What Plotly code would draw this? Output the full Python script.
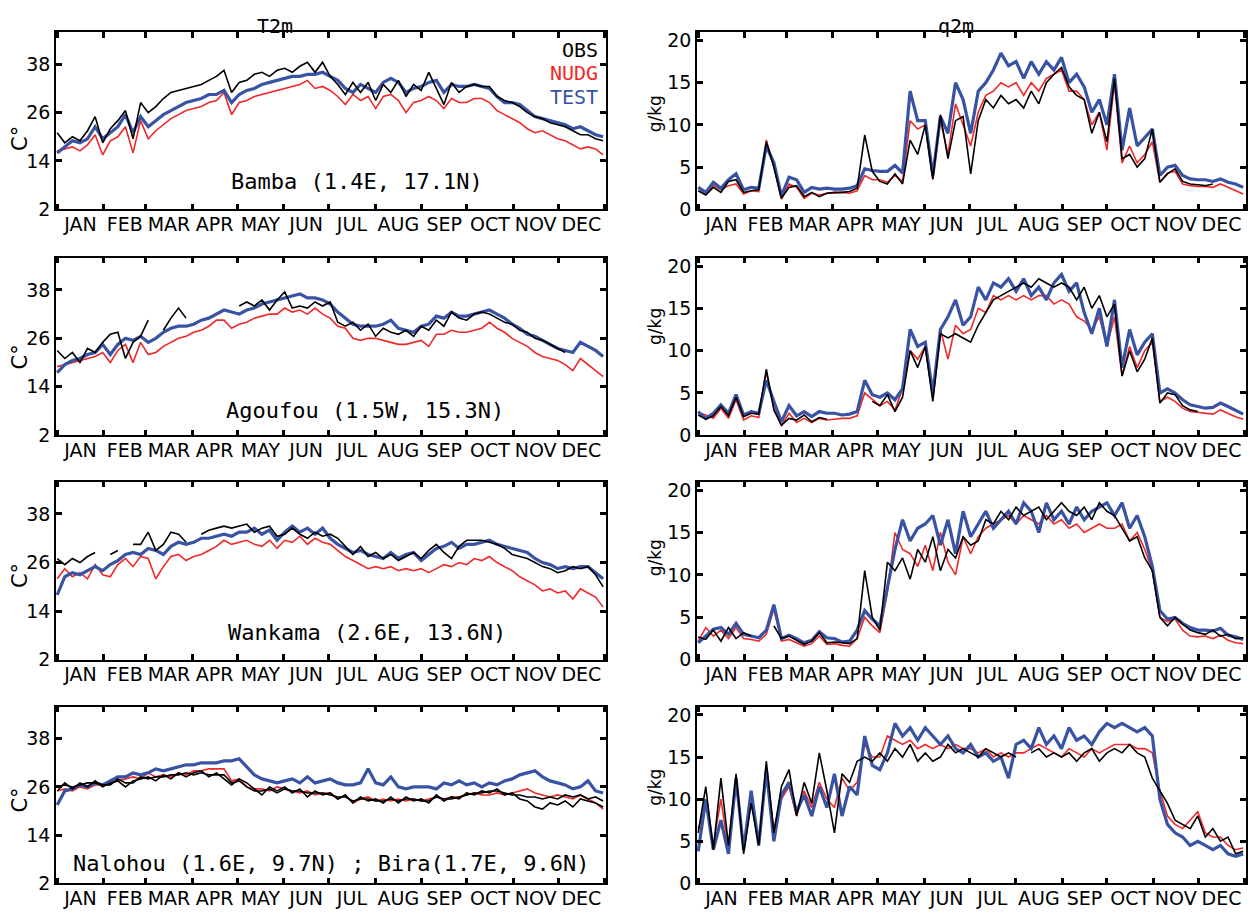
import plotly.graph_objects as go

# ---------------- data (~5-day samples) ----------------
N = 73
DAYS = [round(i * 364 / 72, 2) for i in range(N)]
MONTHS = ["JAN", "FEB", "MAR", "APR", "MAY", "JUN", "JUL", "AUG", "SEP", "OCT", "NOV", "DEC"]
MONTH_START = [0, 31, 59, 90, 120, 151, 181, 212, 243, 273, 304, 334, 365]
T_TICKS = [2, 14, 26, 38]
Q_TICKS = [0, 5, 10, 15, 20]
_ = None

bamba_t_obs = [21, 18.5, 20, 19, 21.5, 25, 18.5, 22, 24, 26.5, 19.5, 28.5,
               26, 27.5, 29.5, 31, 31.5, 32, 32.5, 33, 34, 35, 36.5, 31,
               33.5, 34, 35.5, 36, 35, 36.5, 37, 36, 37.5, 38.5, 36, 38.5,
               35, 33, 30.5, 33.5, 31, 33.5, 29, 33, 31, 34, 30, 33, 31.5,
               36, 32, 28, 33.5, 31, 32.5, 33, 32.5, 32.5, 30, 29, 28.5,
               27.5, 26, 25, 24.5, 23.5, 23, 22.5, 21.5, 20.5, 20.5, 19.5, 19]
bamba_t_nudg = [16.5, 17, 17.5, 16.5, 18, 20.5, 15.5, 19, 20, 22.5, 16, 24,
                19.5, 21.5, 23, 24.5, 25.5, 26.5, 27, 27.5, 28.5, 29, 31, 25.5,
                28.5, 29, 30, 30.5, 31, 31.5, 32, 32.5, 33, 34, 32, 32.5,
                31.5, 30, 28, 30.5, 29, 30, 27, 30, 30.5, 29, 26, 28.5, 29,
                30, 29, 27, 29.5, 28.5, 28.5, 29.5, 29.5, 28.5, 26.5, 25.5, 24.5,
                23.5, 22, 21, 21.5, 20.5, 19.5, 19, 18, 17, 17.5, 17, 15.5]
bamba_t_test = [16, 17.5, 19, 18.5, 19.5, 22.5, 19.5, 21, 22.5, 25.5, 21, 25,
                22.5, 24, 25.5, 26.5, 27.5, 28.5, 29, 29.5, 30.5, 30.5, 31.5, 28.5,
                30.5, 31.5, 32, 33, 33.5, 34, 34.5, 35, 35, 35.5, 35.5, 36,
                35, 34, 32, 31, 33, 32, 31, 33.5, 34.5, 33.5, 31, 32, 32.5,
                33.5, 34, 31, 33, 32.5, 32.5, 33, 32.5, 32, 30, 28.5, 28.5,
                28, 26.5, 25, 24.5, 24, 23.5, 23, 22, 22.5, 21.5, 20.5, 20]

bamba_q_obs = [2.2, 1.7, 2.6, 2.0, 3.3, 3.5, 2.0, 2.2, 2.3, 8.0, 5.0, 1.3,
               2.6, 2.8, 1.5, 2.0, 1.5, 1.9, 2.0, 2.0, 2.1, 2.5, 8.8, 4.5,
               3.3, 3.0, 4.2, 3.0, 8.2, 6.5, 10.0, 3.6, 11.2, 6.0, 10.5, 11.0,
               4.2, 10.5, 13.0, 12.0, 13.5, 12.5, 13.0, 12.0, 14.0, 12.5, 15.0, 16.0, 16.8,
               14.5, 13.5, 13.0, 9.0, 11.5, 8.0, 15.5, 6.0, 6.5, 5.0, 6.0, 9.5,
               3.2, 4.2, 4.8, 3.3, 3.0, 2.9, 2.8, 3.0, _, _, _, _]
bamba_q_nudg = [2.5, 1.9, 2.8, 2.3, 2.8, 3.0, 1.8, 2.2, 2.1, 8.2, 5.0, 1.2,
                3.0, 2.6, 1.3, 1.9, 1.7, 1.9, 1.9, 2.0, 1.9, 2.2, 4.0, 3.5,
                3.5, 3.2, 4.0, 3.3, 10.5, 9.5, 10.0, 3.5, 10.5, 6.5, 12.5, 10.0,
                7.5, 11.5, 13.5, 14.0, 15.0, 14.5, 15.0, 13.5, 15.0, 14.0, 15.5, 16.0, 16.5,
                14.0, 14.0, 13.0, 10.0, 11.5, 7.0, 15.0, 5.5, 7.5, 5.5, 6.5, 8.0,
                3.2, 4.3, 4.5, 3.0, 2.8, 2.7, 2.7, 2.6, 3.0, 2.6, 2.2, 1.8]
bamba_q_test = [2.6, 2.0, 3.2, 2.5, 3.5, 4.2, 2.3, 2.6, 2.5, 7.5, 5.5, 1.6,
                3.8, 3.5, 2.0, 2.6, 2.4, 2.5, 2.4, 2.4, 2.5, 2.8, 4.8, 4.6,
                4.5, 4.5, 5.2, 4.3, 14.0, 10.5, 10.5, 4.0, 11.0, 9.0, 15.0, 13.0,
                9.0, 14.0, 15.0, 16.5, 18.5, 17.0, 17.5, 15.5, 17.5, 16.0, 17.5, 16.5, 18.0,
                15.0, 16.0, 14.5, 11.5, 13.0, 10.0, 16.0, 7.0, 12.0, 7.5, 8.5, 9.5,
                4.0, 5.0, 5.2, 4.0, 3.6, 3.5, 3.5, 3.3, 3.6, 3.2, 3.0, 2.6]

agou_t_obs = [23, 21, 22.5, 20, 23.5, 22.5, 25, 27, 27.5, 21, 25, 26.5,
              30.5, _, 28, 31, 33.5, 31, _, _, _, _, _, _,
              34, 35, 34, 35.5, 33, 35.5, 37.5, 33.5, 34, 33.5, 35, 34,
              35, 30, 29, 30, 28, 29.5, 26.5, 28.5, 27.5, 27, 28, 26.5, 29,
              28, 30.5, 29, 32.5, 31, 30.5, 32, 32.5, 32, 31, 30, 29.5,
              28, 27.5, 26, 25.5, 24.5, 23.5, 22.5, _, _, _, _, _]
agou_t_nudg = [19, 19.5, 20, 20.5, 21, 21.5, 22.5, 20, 23, 24.5, 20, 25,
               22, 22.5, 24, 25, 26, 26.5, 27.5, 28, 29, 30.5, 30.5, 28.5,
               29.5, 30, 31, 31.5, 32, 32, 33.5, 32.5, 33, 32, 33.5, 32,
               31, 29, 28.5, 26, 25.5, 26, 26, 25.5, 25, 24.5, 24.5, 25, 25.5,
               24, 27, 27, 28, 27.5, 27.5, 28, 28.5, 30, 28.5, 27.5, 26,
               25, 24, 22.5, 21.5, 21, 20.5, 19.5, 18, 21, 19.5, 18, 16.5]
agou_t_test = [17.5, 19.5, 20.5, 21, 22, 22.5, 24.5, 22, 24.5, 26, 25.5, 26.5,
               25, 26, 27.5, 28.5, 29, 29, 29.5, 30.5, 31, 32, 33, 32.5,
               32, 33, 33.5, 34.5, 35, 35.5, 36, 36.5, 37, 36, 36, 35.5,
               34.5, 32.5, 31, 29.5, 29, 29, 29, 29.5, 30.5, 28.5, 28, 27.5, 29,
               29.5, 31.5, 31, 32.5, 31.5, 31.5, 32, 32.5, 33, 32, 31, 29.5,
               28.5, 27, 26.5, 25.5, 24.5, 23.5, 23, 22.5, 25, 24, 23, 21.5]

agou_q_obs = [2.4, 1.9, 2.3, 3.4, 2.3, 4.5, 2.2, 2.6, 2.5, 7.8, 3.0, 1.2,
              2.0, 1.8, 2.4, 1.6, 2.1, 1.9, _, _, _, _, _, 4.0,
              3.5, 4.8, 2.8, 4.5, 10.0, 8.0, 10.5, 4.0, 12.0, 11.5, 12.0, 11.5,
              11.0, 13.0, 14.5, 16.0, 16.5, 17.0, 17.5, 18.0, 17.5, 18.5, 18.0, 17.5, 18.0,
              17.5, 16.0, 17.5, 15.0, 16.5, 14.0, 15.5, 7.0, 10.0, 7.5, 9.0, 11.5,
              3.8, 5.0, 4.8, 3.5, 3.0, 2.8, _, _, _, _, _, _]
agou_q_nudg = [2.7, 2.4, 2.0, 3.2, 2.0, 4.2, 1.8, 2.3, 2.1, 7.5, 3.2, 1.1,
               2.6, 1.5, 2.0, 1.5, 2.0, 1.8, 1.9, 2.0, 2.0, 2.3, 5.0, 4.2,
               3.5, 4.0, 3.0, 5.5, 10.0, 9.0, 10.5, 4.5, 12.5, 9.0, 13.0, 12.0,
               12.5, 15.0, 14.5, 16.5, 16.0, 16.5, 16.0, 16.5, 16.0, 16.5, 16.5, 15.5, 16.0,
               15.5, 14.0, 13.5, 12.5, 14.0, 10.5, 14.0, 7.0, 10.5, 8.0, 10.0, 11.0,
               4.0, 4.5, 4.0, 3.2, 2.8, 2.7, 2.6, 2.5, 3.0, 2.6, 2.2, 1.9]
agou_q_test = [2.8, 2.0, 2.6, 3.6, 2.6, 4.8, 2.4, 2.8, 2.6, 6.5, 4.0, 1.6,
               3.5, 2.3, 2.8, 2.2, 2.8, 2.6, 2.6, 2.4, 2.5, 2.8, 6.5, 4.8,
               4.5, 5.0, 4.2, 5.5, 12.5, 10.5, 11.0, 5.0, 12.5, 14.0, 16.0, 13.0,
               14.0, 17.5, 16.0, 18.0, 17.5, 18.5, 17.0, 18.5, 16.5, 17.5, 16.0, 18.0, 19.0,
               17.0, 18.0, 14.5, 12.0, 15.0, 10.5, 16.0, 8.0, 12.5, 9.5, 11.0, 12.0,
               5.0, 5.5, 5.0, 4.2, 3.6, 3.4, 3.2, 3.3, 3.8, 3.4, 3.0, 2.5]

wank_t_obs = [27, 25.5, 27, 26, 27.5, 28.5, _, 28, 29, _, 30.5, 30.5,
              33.5, 29, 30.5, 33.5, 33, 31, _, 33, 34, 34.5, 35, 34.5,
              35, 35.5, 33.5, 34.5, 35, 32.5, 33, 34.5, 33, 32, 33.5, 32.5,
              33, 32, 30, 28, 30, 27.5, 28.5, 27, 28, 26.5, 27.5, 28.5, 27,
              29, 30.5, 28.5, 27, 30, 31.5, 31.5, 31.5, 31, 30.5, 29.5, 28,
              27.5, 27, 26, 25, 24.5, 23.5, 24, 25, 24.5, 25, 23, 20]
wank_t_nudg = [22, 24.5, 22.5, 23.5, 22, 25.5, 23, 22.5, 25.5, 27, 25, 27.5,
               27, 22, 25, 27.5, 28, 26.5, 27.5, 28, 29, 30, 31.5, 30.5,
               31, 31.5, 30.5, 30, 31.5, 29.5, 31.5, 31, 32.5, 30.5, 32, 31,
               30.5, 29, 27.5, 26.5, 25.5, 24.5, 25, 24.5, 25, 24, 24.5, 24, 24.5,
               23.5, 24.5, 25.5, 25, 26, 25.5, 27, 26.5, 27.5, 26, 25, 24,
               22.5, 21.5, 20.5, 19, 19.5, 18.5, 19, 17, 19.5, 18.5, 17.5, 15]
wank_t_test = [18, 22.5, 23.5, 23, 24, 25, 24, 25.5, 26.5, 28, 28.5, 28,
               29.5, 29, 28, 30, 31, 30.5, 31, 32, 32, 32.5, 33, 32.5,
               33.5, 33.5, 34.5, 33, 34, 31.5, 33.5, 35, 33.5, 34.5, 33, 34.5,
               32, 30.5, 29.5, 28.5, 29, 28, 27.5, 27, 28.5, 27, 28, 28.5, 26.5,
               28, 29.5, 30, 31, 29.5, 30.5, 30.5, 31, 31.5, 30.5, 30, 29.5,
               29, 28.5, 27, 26, 25.5, 24.5, 25, 24.5, 25, 25, 23.5, 22]

wank_q_obs = [2.7, 2.4, 3.5, 2.2, 3.8, 2.5, 3.2, 2.8, _, _, 4.0, 2.5,
              2.8, 2.3, 1.8, 2.2, 3.2, 2.0, 2.1, 2.0, 1.9, 2.5, 10.5, 5.0,
              3.5, 11.5, 10.5, 12.0, 9.5, 13.0, 11.5, 14.5, 10.5, 13.0, 12.0, 14.5,
              13.5, 14.0, 16.5, 16.0, 17.5, 16.5, 18.0, 17.0, 17.5, 18.0, 16.5, 17.5, 18.5,
              17.5, 17.0, 18.0, 16.5, 18.5, 17.5, 17.0, 15.5, 14.0, 14.5, 12.0, 10.5,
              5.0, 4.0, 5.0, 4.2, 3.5, 3.2, 3.0, 3.5, 2.8, 3.0, 2.5, 2.6]
wank_q_nudg = [2.2, 3.8, 2.8, 3.5, 2.5, 3.8, 2.5, 2.4, 2.2, 3.0, 6.0, 2.2,
               2.4, 2.0, 1.6, 1.9, 2.8, 1.8, 1.9, 1.7, 1.6, 2.5, 5.0, 4.0,
               3.2, 8.0, 15.0, 13.0, 12.5, 11.0, 13.5, 10.5, 15.0, 11.5, 10.0, 14.5,
               12.5, 14.5, 15.5, 16.0, 16.5, 17.0, 16.0, 17.0, 16.5, 16.0, 17.0, 16.0, 16.5,
               15.5, 16.0, 15.0, 15.5, 16.0, 15.5, 15.5, 16.0, 14.0, 15.0, 13.0, 10.5,
               5.0, 4.5, 4.8, 3.5, 2.8, 2.7, 2.8, 2.5, 2.9, 2.3, 2.0, 1.9]
wank_q_test = [2.0, 2.8, 3.6, 3.8, 3.0, 4.3, 3.0, 2.8, 2.6, 3.5, 6.5, 2.5,
               2.9, 2.5, 2.0, 2.3, 3.3, 2.6, 2.5, 2.1, 2.2, 3.5, 5.8, 4.8,
               4.0, 8.5, 13.0, 16.5, 14.0, 15.5, 16.0, 17.0, 13.5, 16.5, 12.5, 17.5,
               14.5, 16.0, 17.5, 15.5, 16.5, 17.5, 16.0, 18.5, 17.5, 15.0, 18.5, 16.5, 17.5,
               16.0, 18.0, 16.5, 17.5, 18.0, 18.5, 17.0, 18.5, 15.5, 17.0, 14.5, 11.0,
               5.8, 4.8, 5.0, 4.3, 3.8, 3.5, 3.5, 3.4, 3.7, 2.9, 2.7, 2.4]

nalo_t_obs = [25, 27, 25.5, 27, 26, 27.5, 26, 27, 27.5, 26, 27.5, 28,
              28.5, 27.5, 29, 28, 29.5, 28.5, 29.5, 30, 28.5, 29.5, 28, 26.5,
              28, 27, 25.5, 24, 26, 25, 26, 24.5, 25.5, 23.5, 25, 24,
              24.5, 23, 24, 22, 23.5, 22.5, 23, 22, 23.5, 22, 23.5, 22.5, 23,
              22, 24, 22.5, 23.5, 23, 24.5, 24, 25, 24.5, 25.5, 24, 24.5,
              23, 22.5, 21, 20.5, 22, 21.5, 22.5, 21, 23, 22.5, 22, 21]
bira_t_obs = [26, 26.5, 26, 26.5, 27, 27, 26.5, 26.5, 28, 27, 27, 28.5,
              28, 28.5, 28.5, 29, 29, 29.5, 29, 29.5, 29, 29, 29, 27,
              27.5, 26, 25, 25, 25.5, 24.5, 25.5, 25, 25, 24.5, 24.5, 24.5,
              24, 23.5, 23.5, 22.5, 23, 23, 22.5, 22.5, 23, 22.5, 23, 23, 22.5,
              22.5, 23.5, 23, 23, 23.5, 24, 24.5, 24.5, 25, 25, 24.5, 24,
              24, 23.5, 23.5, 23, 23.5, 23, 24, 23.5, 24, 23, 23.5, 22.5]
nalo_t_nudg = [25, 25.5, 25, 26, 25.5, 26.5, 26.5, 27, 27.5, 28, 28.5, 28,
               29.5, 28.5, 29, 28.5, 29.5, 29, 30, 30, 30.5, 30.5, 30.5, 27.5,
               28, 26, 25.5, 25.5, 25, 26, 25.5, 25, 24.5, 25, 24, 24.5,
               24.5, 23, 24, 22, 23, 23.5, 22.5, 23, 22.5, 23, 22.5, 23, 22.5,
               23, 23.5, 23, 23.5, 23.5, 24, 24.5, 24, 24, 24.5, 24, 24.5,
               25, 25.5, 24.5, 24, 23.5, 24, 23.5, 23, 24, 23, 22, 20.5]
nalo_t_test = [21.5, 25, 25.5, 26.5, 26, 27, 26.5, 27.5, 28.5, 28.5, 29.5, 29,
               29.5, 30.5, 30, 30.5, 31, 31.5, 31.5, 32, 32, 32, 32.5, 32.5,
               33, 31, 29, 28, 27.5, 27, 27.5, 28, 27, 28.5, 27, 27.5,
               28, 27, 26.5, 26.5, 27, 30.5, 27, 26.5, 28.5, 26, 25.5, 26, 26,
               26, 25.5, 27, 26.5, 27.5, 26.5, 27, 26, 27, 26.5, 27.5, 28,
               29, 29.5, 30, 28.5, 27.5, 27, 26.5, 25.5, 26, 27.5, 25, 24.5]

nalo_q_obs = [6.0, 11.5, 4.0, 12.5, 4.5, 13.0, 3.5, 9.5, 4.5, 14.5, 6.0, 11.5,
              13.5, 8.0, 12.0, 9.5, 15.5, 11.0, 6.0, 13.0, 12.0, 14.5, 15.0, 14.5,
              15.5, 14.5, 16.0, 15.0, 16.5, 14.5, 15.5, 14.5, 15.0, 16.5, 15.5, 16.0,
              15.5, 15.0, 16.0, 15.5, 15.0, 15.5, 15.0, _, 15.5, 16.0, 15.0, 15.5, 15.0,
              15.5, 14.5, 15.5, 16.0, 14.5, 15.5, 16.0, 15.5, 16.5, 15.5, 15.0, 12.5,
              11.0, 9.5, 7.5, 7.0, 6.5, 8.0, 5.5, 6.5, 5.0, 5.5, 3.5, 3.8]
nalo_q_nudg = [6.5, 9.5, 4.5, 10.0, 4.0, 12.0, 4.0, 10.0, 5.0, 13.0, 6.5, 10.0,
               11.5, 8.0, 11.0, 9.0, 12.0, 10.0, 9.0, 12.5, 11.0, 12.0, 16.5, 15.0,
               15.0, 17.5, 17.0, 16.5, 17.0, 16.0, 16.5, 16.0, 16.5, 16.0, 16.5, 16.0,
               16.0, 15.5, 16.0, 15.0, 15.5, 15.0, 15.5, 15.5, 16.0, 16.5, 16.0, 15.5, 15.0,
               16.0, 15.5, 15.0, 16.0, 15.5, 16.0, 16.5, 16.5, 16.5, 16.0, 16.0, 15.5,
               11.0, 8.0, 7.0, 6.5, 7.5, 8.5, 6.0, 5.5, 5.5, 4.5, 4.0, 4.2]
nalo_q_test = [3.8, 10.0, 4.0, 7.5, 3.5, 12.5, 4.0, 11.0, 4.5, 13.5, 5.0, 10.5,
               12.0, 8.5, 10.5, 8.0, 11.5, 9.0, 13.0, 8.0, 11.5, 10.5, 17.5, 14.0,
               13.5, 15.5, 19.0, 17.5, 18.5, 17.0, 18.5, 17.5, 16.5, 17.5, 16.0, 15.5,
               16.5, 15.0, 15.5, 14.5, 15.0, 12.5, 16.5, 17.0, 16.0, 18.5, 16.5, 17.5, 16.0,
               18.5, 17.0, 17.5, 16.5, 18.0, 19.0, 18.5, 19.0, 18.5, 18.0, 18.5, 17.5,
               10.0, 7.0, 6.0, 5.5, 4.5, 5.0, 4.5, 4.0, 4.5, 3.5, 3.2, 3.5]

for arr in [bamba_t_obs, bamba_t_nudg, bamba_t_test, bamba_q_obs, bamba_q_nudg, bamba_q_test,
            agou_t_obs, agou_t_nudg, agou_t_test, agou_q_obs, agou_q_nudg, agou_q_test,
            wank_t_obs, wank_t_nudg, wank_t_test, wank_q_obs, wank_q_nudg, wank_q_test,
            nalo_t_obs, bira_t_obs, nalo_t_nudg, nalo_t_test, nalo_q_obs, nalo_q_nudg, nalo_q_test]:
    assert len(arr) == N, len(arr)

STATIONS = ["Bamba (1.4E, 17.1N)", "Agoufou (1.5W, 15.3N)", "Wankama (2.6E, 13.6N)",
            "Nalohou (1.6E, 9.7N) ; Bira(1.7E, 9.6N)"]
LEGEND = [("OBS", "#000000"), ("NUDG", "#f02828"), ("TEST", "#3953a4")]

panels = [
    ([bamba_t_obs], bamba_t_nudg, bamba_t_test, "T"),
    ([bamba_q_obs], bamba_q_nudg, bamba_q_test, "Q"),
    ([agou_t_obs], agou_t_nudg, agou_t_test, "T"),
    ([agou_q_obs], agou_q_nudg, agou_q_test, "Q"),
    ([wank_t_obs], wank_t_nudg, wank_t_test, "T"),
    ([wank_q_obs], wank_q_nudg, wank_q_test, "Q"),
    ([nalo_t_obs, bira_t_obs], nalo_t_nudg, nalo_t_test, "T"),
    ([nalo_q_obs], nalo_q_nudg, nalo_q_test, "Q"),
]

# ---------------- layout geometry ----------------
W, H = 1253, 915
COLS = [(56, 606), (697, 1246)]
ROWS = [(29.5, 209.5), (258.5, 439), (486, 667), (714.5, 894)]
BLACK, RED, BLUE = LEGEND[0][1], LEGEND[1][1], LEGEND[2][1]

def px(x):
    return x / W

def py(y):
    return 1 - y / H

fig = go.Figure()
layout = dict(width=W, height=H, margin=dict(l=0, r=0, t=0, b=0),
              paper_bgcolor="white", plot_bgcolor="white", showlegend=False)

month_mid = [(a + b) / 2 for a, b in zip(MONTH_START[:-1], MONTH_START[1:])]
tick_font = dict(family="DejaVu Sans", size=19, color="black")

for i, (obs_list, nudg, test, kind) in enumerate(panels):
    r, c = divmod(i, 2)
    k = i + 1
    xa = "x" if k == 1 else f"x{k}"
    ya = "y" if k == 1 else f"y{k}"
    fig.add_trace(go.Scatter(x=DAYS, y=nudg, mode="lines", line=dict(color=RED, width=1.6),
                             xaxis=xa, yaxis=ya, connectgaps=False))
    fig.add_trace(go.Scatter(x=DAYS, y=test, mode="lines", line=dict(color=BLUE, width=3.2),
                             xaxis=xa, yaxis=ya, connectgaps=False))
    for obs in obs_list:
        fig.add_trace(go.Scatter(x=DAYS, y=obs, mode="lines", line=dict(color=BLACK, width=1.6),
                                 xaxis=xa, yaxis=ya, connectgaps=False))
    x0, x1 = COLS[c]
    y0, y1 = ROWS[r]
    xkey = "xaxis" if k == 1 else f"xaxis{k}"
    ykey = "yaxis" if k == 1 else f"yaxis{k}"
    layout[xkey] = dict(domain=[px(x0), px(x1)], anchor=ya, range=[-0.8, 365.9],
                        tickmode="array", tickvals=month_mid, ticktext=MONTHS, ticks="",
                        ticklabelstandoff=-3,
                        minor=dict(tickmode="array", tickvals=MONTH_START, ticks="inside",
                                   ticklen=6, tickwidth=3, tickcolor="black", showgrid=False),
                        showline=True, linecolor="black", linewidth=1.5, mirror="ticks",
                        showgrid=False, zeroline=False, tickfont=tick_font)
    if kind == "T":
        yr, yt = [2, 46], T_TICKS
    else:
        yr, yt = [0, 21], Q_TICKS
    layout[ykey] = dict(domain=[py(y1), py(y0)], anchor=xa, range=yr,
                        tickmode="array", tickvals=yt, ticks="inside", ticklen=6, tickwidth=3,
                        tickcolor="black", showline=True, linecolor="black", linewidth=1.5,
                        mirror="ticks", showgrid=False, zeroline=False, tickfont=tick_font)

ann = []
mono = "DejaVu Sans Mono"
ann.append(dict(text="T2m", x=px(275), y=py(23), font=dict(family=mono, size=20, color="black")))
ann.append(dict(text="q2m", x=px(956), y=py(23), font=dict(family=mono, size=20, color="black")))
for (txt, col), yy in zip(LEGEND, [48, 71.5, 95]):
    ann.append(dict(text=txt, x=px(599), y=py(yy), xanchor="right", borderpad=0,
                    font=dict(family=mono, size=20, color=col)))
st_pos = [(229, 181), (224, 414), (226, 639), (71, 874)]
for txt, (sx, sy) in zip(STATIONS, st_pos):
    ann.append(dict(text=txt, x=px(sx), y=py(sy), xanchor="left",
                    font=dict(family=mono, size=22, color="black")))
for yy in [138, 360, 582, 810]:
    ann.append(dict(text="C°", x=px(20), y=py(yy), textangle=-90,
                    font=dict(family="DejaVu Sans", size=21, color="black")))
for yy in [113, 329, 564, 797]:
    ann.append(dict(text="g/kg", x=px(655), y=py(yy), textangle=-90,
                    font=dict(family="DejaVu Sans", size=17, color="black")))
for a in ann:
    a.update(xref="paper", yref="paper", showarrow=False)
    a.setdefault("xanchor", "center")
    a.setdefault("yanchor", "middle")
layout["annotations"] = ann

fig.update_layout(**layout)
fig.write_html("out.html", config={"displayModeBar": False},
               post_script="document.body.style.margin='0';document.body.style.overflow='hidden';")
